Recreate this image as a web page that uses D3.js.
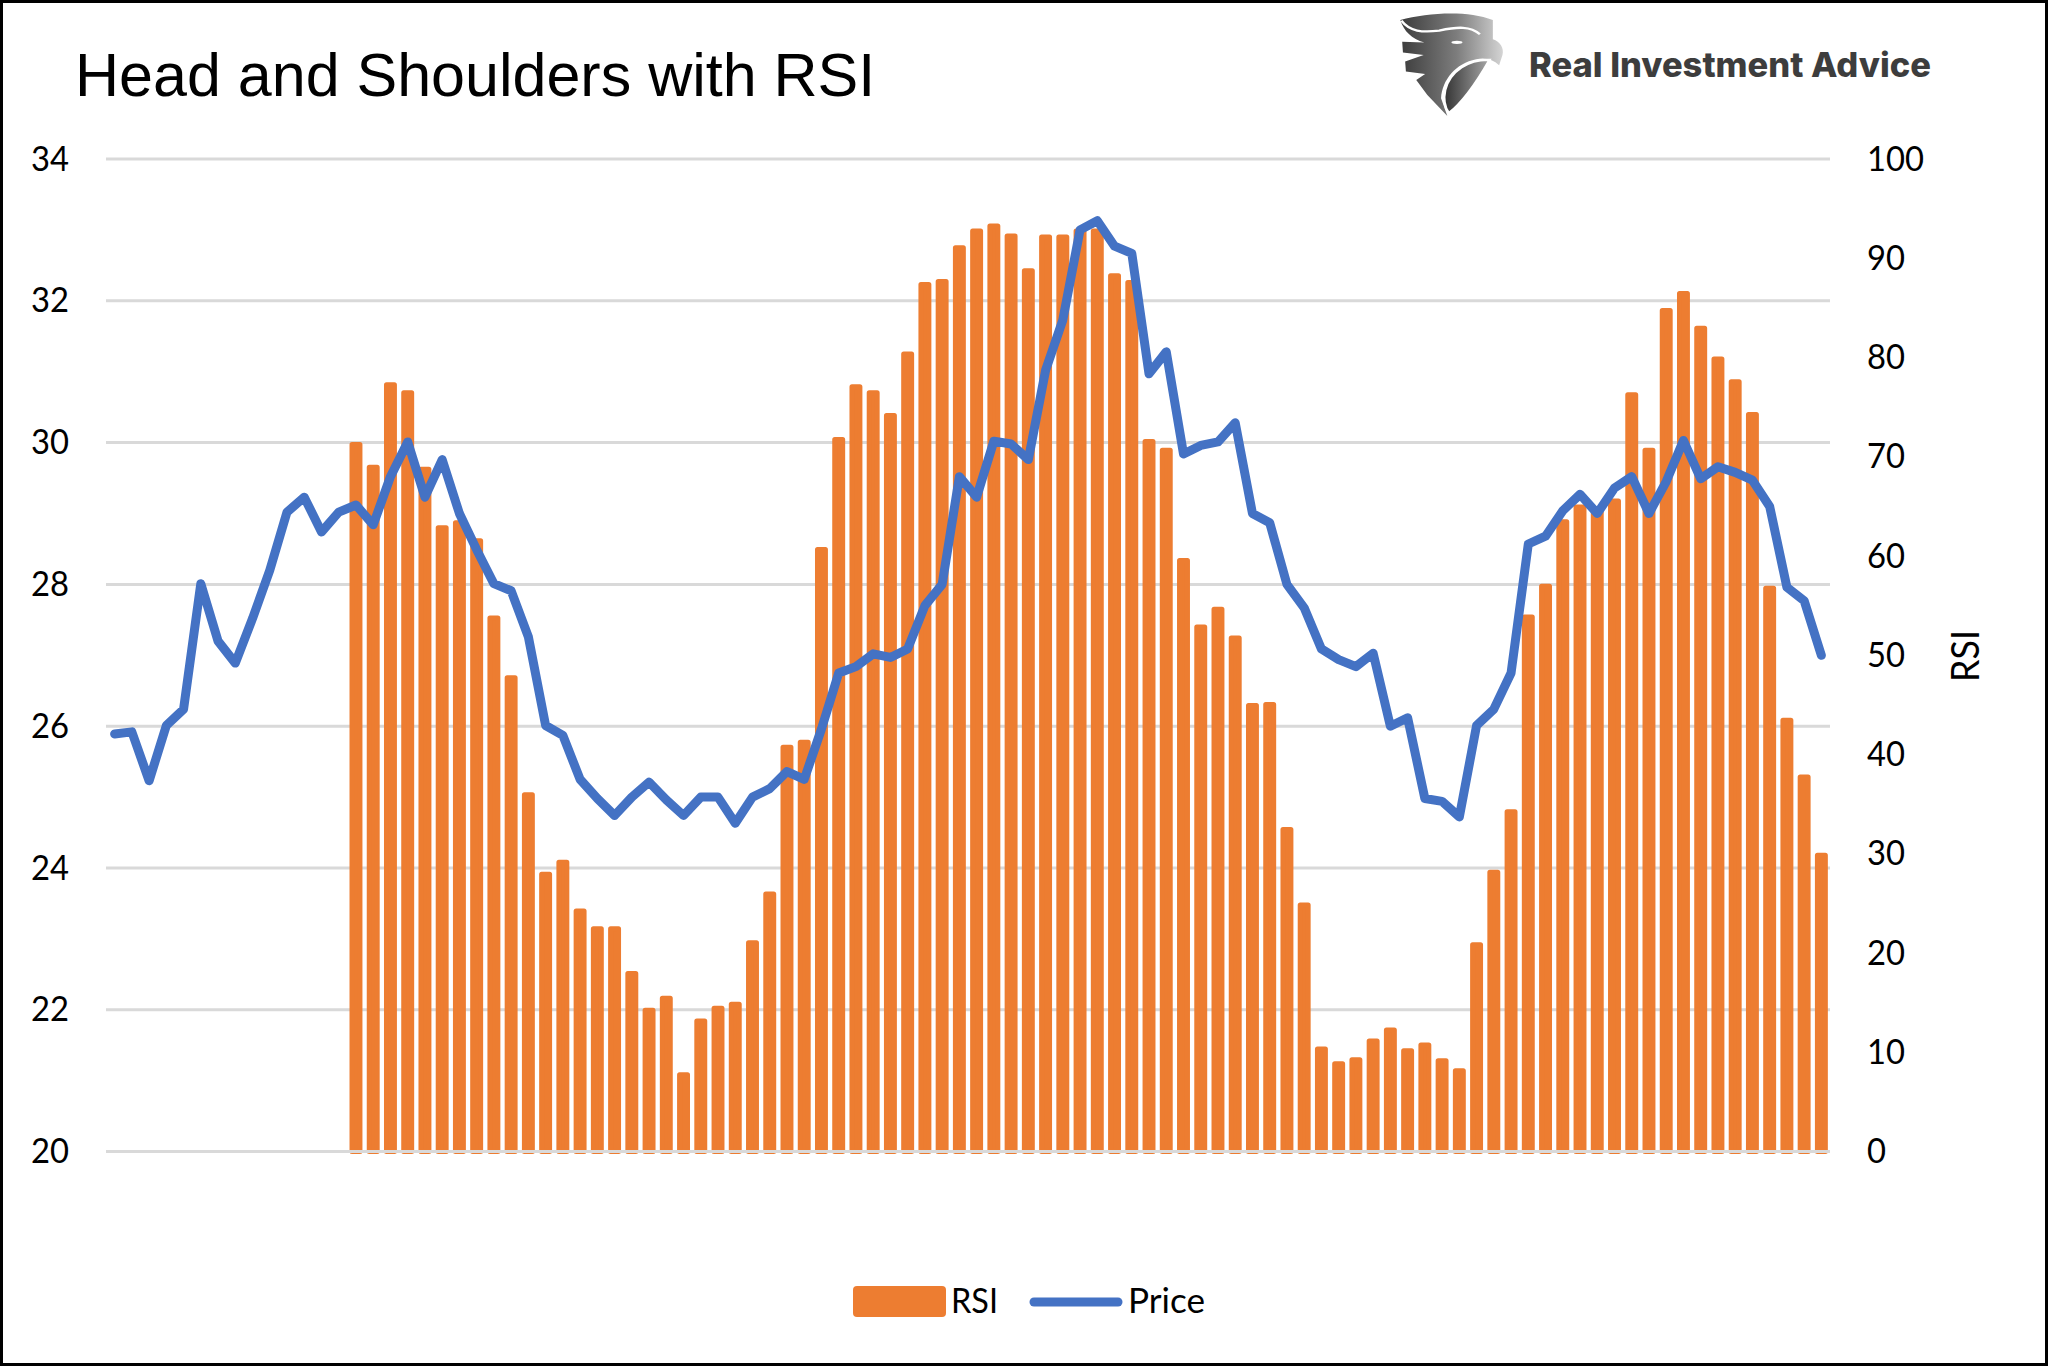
<!DOCTYPE html>
<html>
<head>
<meta charset="utf-8">
<script src="https://cdn.jsdelivr.net/npm/d3@7"></script>
<style>
  html, body { margin: 0; padding: 0; background: #fff; }
  svg { display: block; }
  .tick-label { font-family: Lato, sans-serif; font-size: 35px; fill: #000; }
</style>
</head>
<body>
<div id="chart-area"></div>
<script>
var priceValues = [
    25.89, 25.92, 25.23, 26.01, 26.24, 28.01, 27.2, 26.89, 27.52, 28.2,
    29.02, 29.23, 28.74, 29.02, 29.12, 28.84, 29.52, 30.01, 29.23, 29.76,
    29.0, 28.49, 28.01, 27.91, 27.26, 26.01, 25.87, 25.25, 24.98, 24.74,
    25.0, 25.21, 24.96, 24.74, 25.0, 25.0, 24.63, 25.0, 25.12, 25.36,
    25.25, 25.96, 26.75, 26.84, 27.02, 26.97, 27.09, 27.7, 28.0, 29.52,
    29.23, 30.02, 29.98, 29.76, 31.02, 31.73, 33.0, 33.13, 32.77, 32.67,
    30.97, 31.28, 29.84, 29.96, 30.01, 30.28, 29.0, 28.87, 28.0, 27.67,
    27.09, 26.94, 26.84, 27.03, 26.0, 26.12, 24.98, 24.94, 24.72, 26.01,
    26.24, 26.75, 28.57, 28.68, 29.04, 29.27, 29.0, 29.36, 29.52, 29.0,
    29.45, 30.03, 29.49, 29.66, 29.58, 29.47, 29.1, 27.96, 27.77, 27.0
];

// RSI needs 14 periods of history, so the first 14 are empty
var rsiValues = [
    null, null, null, null, null, null, null, null, null, null,
    null, null, null, null, 71.5, 69.2, 77.5, 76.7, 69.0, 63.1,
    63.6, 61.8, 54.0, 48.0, 36.2, 28.2, 29.4, 24.5, 22.7, 22.7,
    18.2, 14.5, 15.7, 8.0, 13.4, 14.7, 15.1, 21.3, 26.2, 41.0,
    41.5, 60.9, 72.0, 77.3, 76.7, 74.4, 80.6, 87.6, 87.9, 91.3,
    93.0, 93.5, 92.5, 89.0, 92.4, 92.4, 93.0, 93.0, 88.5, 87.8,
    71.8, 70.9, 59.8, 53.1, 54.9, 52.0, 45.2, 45.3, 32.7, 25.1,
    10.6, 9.1, 9.5, 11.4, 12.5, 10.4, 11.0, 9.4, 8.4, 21.1,
    28.4, 34.5, 54.1, 57.2, 63.7, 65.2, 64.9, 65.8, 76.5, 70.9,
    85.0, 86.7, 83.2, 80.1, 77.8, 74.5, 57.0, 43.7, 38.0, 30.1
];

var priceTicks = [20, 22, 24, 26, 28, 30, 32, 34];
var rsiTicks = [0, 10, 20, 30, 40, 50, 60, 70, 80, 90, 100];

var chartTitle = "Head and Shoulders with RSI";
var brandName = "Real Investment Advice";

var width = 2048, height = 1366;
var margin = {top: 159, right: 218, bottom: 214.4, left: 106};
var innerW = width - margin.left - margin.right;
var innerH = height - margin.top - margin.bottom;
var digitW = 19;
var barStroke = 5;

var svg = d3.select("#chart-area").append("svg")
    .attr("width", width)
    .attr("height", height);

var defs = svg.append("defs");
var logoGrad = defs.append("linearGradient").attr("id", "logo-grad");
logoGrad.append("stop").attr("offset", "0%").attr("stop-color", "#3c3c3c");
logoGrad.append("stop").attr("offset", "55%").attr("stop-color", "#7d7d7d");
logoGrad.append("stop").attr("offset", "100%").attr("stop-color", "#d4d4d4");
var shieldGrad = defs.append("linearGradient").attr("id", "shield-grad");
shieldGrad.append("stop").attr("offset", "0%").attr("stop-color", "#333");
shieldGrad.append("stop").attr("offset", "100%").attr("stop-color", "#a8a8a8");

// frame
svg.append("rect")
    .attr("x", 1.5).attr("y", 1.5)
    .attr("width", width - 3).attr("height", height - 3)
    .attr("fill", "#fff")
    .attr("stroke", "#000")
    .attr("stroke-width", 3);

svg.append("text")
    .attr("x", 75)
    .attr("y", 96)
    .style("font-family", "'Liberation Sans', Arial, sans-serif")
    .style("font-size", "61px")
    .style("fill", "#000")
    .text(chartTitle);

// logo, drawn in a 3x crop of itself
var logo = svg.append("g")
    .attr("transform", "translate(1380,0) scale(0.37,0.333)");
logo.append("path")
    .attr("fill", "url(#logo-grad)")
    .attr("d", "M55,60 C130,38 235,30 305,60 L305,118 C325,125 336,145 331,165 L322,196 C305,178 285,172 260,178 C205,190 168,240 165,295 L182,348 L128,285 L98,240 L122,222 L70,215 L68,185 L118,165 L62,158 L60,125 L120,128 C85,115 65,95 55,60 Z");
logo.append("path")
    .attr("fill", "none")
    .attr("stroke", "#fff")
    .attr("stroke-width", 7)
    .attr("d", "M58,62 C80,95 115,98 160,92 C210,80 245,78 270,103");
logo.append("path")
    .attr("fill", "url(#shield-grad)")
    .attr("stroke", "#fff")
    .attr("stroke-width", 7)
    .attr("d", "M296,180 C240,178 190,212 176,270 C170,300 175,322 186,340 C220,310 255,260 296,180 Z");
logo.append("ellipse")
    .attr("cx", 208).attr("cy", 127)
    .attr("rx", 15).attr("ry", 5)
    .attr("fill", "#fff");

svg.append("text")
    .attr("x", 1529)
    .attr("y", 77)
    .attr("textLength", 402)
    .attr("lengthAdjust", "spacingAndGlyphs")
    .style("font-family", "Inter, sans-serif")
    .style("font-weight", 800)
    .style("font-size", "34px")
    .style("fill", "#3d3d3d")
    .text(brandName);

var g = svg.append("g")
    .attr("transform", "translate(" + margin.left + "," + margin.top + ")");

var x = d3.scaleBand()
    .domain(d3.range(priceValues.length))
    .range([0, innerW])
    .paddingInner(0.25)
    .paddingOuter(0.125);

var yPrice = d3.scaleLinear().domain([20, 34]).range([innerH, 0]);
var yRsi = d3.scaleLinear().domain([0, 100]).range([innerH, 0]);

g.selectAll(".grid-line")
    .data(priceTicks)
    .enter().append("line")
    .attr("class", "grid-line")
    .attr("x1", 0)
    .attr("x2", innerW)
    .attr("y1", function(d){ return yPrice(d); })
    .attr("y2", function(d){ return yPrice(d); })
    .attr("stroke", "#d9d9d9")
    .attr("stroke-width", 3);

// stroke with round joins gives the soft corners of the bars
var rsiBars = rsiValues.map(function(d, i){ return {i: i, v: d}; })
    .filter(function(d){ return d.v !== null; });

g.selectAll(".rsi-bar")
    .data(rsiBars)
    .enter().append("rect")
    .attr("class", "rsi-bar")
    .attr("x", function(d){ return x(d.i) + barStroke / 2; })
    .attr("y", function(d){ return yRsi(d.v) + barStroke / 2; })
    .attr("width", x.bandwidth() - barStroke)
    .attr("height", function(d){ return innerH - yRsi(d.v) - barStroke / 2; })
    .attr("fill", "#ed7d31")
    .attr("stroke", "#ed7d31")
    .attr("stroke-width", barStroke)
    .attr("stroke-linejoin", "round");

// baseline sits on top of the bars
g.append("line")
    .attr("x1", 0)
    .attr("x2", innerW)
    .attr("y1", yPrice(20))
    .attr("y2", yPrice(20))
    .attr("stroke", "#d9d9d9")
    .attr("stroke-width", 3);

var priceLine = d3.line()
    .x(function(d, i){ return x(i) + x.bandwidth() / 2; })
    .y(function(d){ return yPrice(d); });

g.append("path")
    .datum(priceValues)
    .attr("d", priceLine)
    .attr("fill", "none")
    .attr("stroke", "#4472c4")
    .attr("stroke-width", 9)
    .attr("stroke-linecap", "round")
    .attr("stroke-linejoin", "round");

g.selectAll(".left-label")
    .data(priceTicks)
    .enter().append("text")
    .attr("class", "tick-label left-label")
    .attr("x", -37)
    .attr("y", function(d){ return yPrice(d); })
    .attr("dy", "0.33em")
    .attr("text-anchor", "end")
    .attr("textLength", function(d){ return String(d).length * digitW; })
    .attr("lengthAdjust", "spacingAndGlyphs")
    .text(function(d){ return d; });

g.selectAll(".right-label")
    .data(rsiTicks)
    .enter().append("text")
    .attr("class", "tick-label right-label")
    .attr("x", innerW + 37)
    .attr("y", function(d){ return yRsi(d); })
    .attr("dy", "0.33em")
    .attr("textLength", function(d){ return String(d).length * digitW; })
    .attr("lengthAdjust", "spacingAndGlyphs")
    .text(function(d){ return d; });

svg.append("text")
    .attr("class", "tick-label")
    .attr("transform", "translate(1979,656) rotate(-90)")
    .attr("text-anchor", "middle")
    .attr("textLength", 52)
    .attr("lengthAdjust", "spacingAndGlyphs")
    .style("font-size", "38px")
    .text("RSI");

// legend
var legend = svg.append("g");
legend.append("rect")
    .attr("x", 853).attr("y", 1286)
    .attr("width", 93).attr("height", 31)
    .attr("rx", 4)
    .attr("fill", "#ed7d31");
legend.append("text")
    .attr("class", "tick-label")
    .attr("x", 951).attr("y", 1313)
    .attr("textLength", 47)
    .attr("lengthAdjust", "spacingAndGlyphs")
    .text("RSI");
legend.append("line")
    .attr("x1", 1034).attr("x2", 1118)
    .attr("y1", 1302).attr("y2", 1302)
    .attr("stroke", "#4472c4")
    .attr("stroke-width", 9)
    .attr("stroke-linecap", "round");
legend.append("text")
    .attr("class", "tick-label")
    .attr("x", 1128).attr("y", 1313)
    .attr("textLength", 77)
    .attr("lengthAdjust", "spacingAndGlyphs")
    .text("Price");
</script>
</body>
</html>
